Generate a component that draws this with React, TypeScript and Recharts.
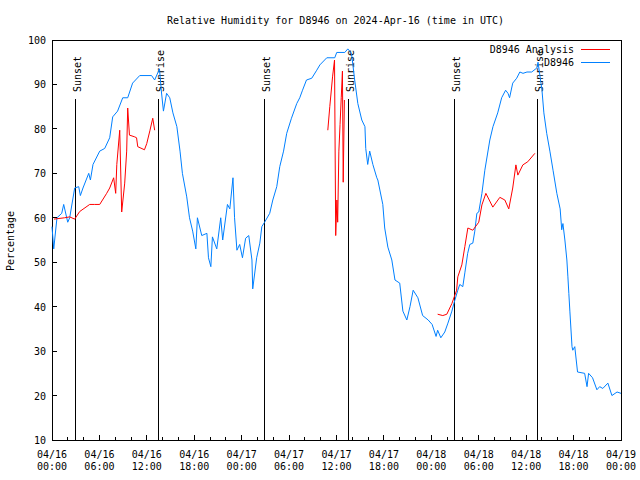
import { LineChart, Line, XAxis, YAxis, ReferenceLine, ReferenceArea, Legend } from "recharts";

const TITLE = "Relative Humidity for D8946 on 2024-Apr-16 (time in UTC)";
const FONT = "'DejaVu Sans Mono', 'Liberation Mono', monospace";

// hours since 04/16 00:00 UTC
const stationHours = [
  0, 0.22, 0.63, 1.23, 1.48, 1.99, 2.24, 2.87, 3.38, 3.59, 3.92, 4.65, 4.86, 5.19, 6.04, 6.67, 7.3, 7.68, 8.3, 8.95,
  9.58, 10.2, 11.1, 12.6, 12.99, 13.6, 13.85, 14.1, 14.5, 14.9, 15.3, 15.8, 16.2, 16.5, 17.05, 17.4, 17.8, 18.2, 18.4, 18.95,
  19.6, 19.8, 20.1, 20.3, 20.85, 21.35, 21.6, 22.2, 22.5, 22.9, 23.1, 23.4, 23.75, 24.1, 24.5, 24.9, 25.3, 25.4, 25.9, 26.3,
  26.55, 26.9, 27.55, 27.94, 28.44, 28.82, 29.3, 29.7, 30.3, 30.97, 31.35, 31.7, 32.2, 32.87, 33.5, 33.9, 34.77, 35.78, 36.03, 37.05,
  37.43, 37.9, 38.3, 38.7, 39.2, 39.6, 39.7, 39.95, 40.2, 40.6, 41.1, 41.23, 41.86, 42.1, 42.5, 43, 43.4, 44, 44.4, 44.9,
  45.3, 45.7, 46.3, 46.9, 47.6, 48.1, 48.6, 48.8, 49.2, 49.7, 50.1, 50.6, 50.85, 51.35, 51.6, 51.98, 52.24, 52.6, 52.87, 53.25,
  53.5, 53.76, 54.0, 54.4, 54.77, 55.4, 55.8, 56.4, 56.9, 57.4, 57.7, 57.9, 58.3, 58.8, 59.2, 59.6, 60.1, 60.7, 61.35, 61.5,
  62, 62.24, 62.6, 63, 63.4, 63.88, 64.3, 64.5, 64.65, 64.9, 65.15, 65.28, 65.4, 65.53, 65.8, 65.9, 66.15, 66.5, 67.4, 67.7,
  67.9, 68.4, 68.95, 69.3, 69.7, 70.34, 70.85, 71.5, 72,
];
const stationRH = [
  58, 53, 60, 61, 63, 59, 60, 66.7, 67, 65, 66.7, 70, 68.5, 72, 75, 75.6, 78, 82.7, 84, 87,
  87, 90.3, 92, 92, 91, 93.5, 88.3, 84, 88, 87, 83.6, 80.5, 75, 70, 64.7, 60, 57, 53, 60, 56,
  56.5, 51, 49, 55.7, 53, 60, 55, 63, 62, 69, 60, 52.7, 54, 51, 55.4, 56, 50.5, 44, 51, 54.3,
  58, 59, 61, 64, 67, 71.5, 75, 79, 82.4, 85.7, 87, 88.7, 91, 91.4, 93.2, 94.4, 96, 96, 97.2, 97.2,
  98, 97, 91, 85.7, 82, 80.5, 75.6, 72, 75, 72, 69, 68.5, 63, 57.7, 53.4, 50.5, 46, 45.3, 39, 37,
  40, 43.7, 42, 38, 37, 36, 33.3, 34.7, 33, 34.3, 36.3, 39, 40.7, 43.7, 45, 44.5, 47.6, 52, 54, 54.3,
  57, 61, 61.3, 65.5, 70.7, 77.5, 80.5, 83.6, 87, 88.7, 88, 87, 90.3, 91.4, 92.8, 92.5, 92.8, 92.8, 93.7, 95,
  88.7, 83.6, 79, 75, 70.7, 65.5, 62, 57.3, 58.7, 55, 50.5, 46.7, 43, 39, 31, 30.2, 31, 25.3, 25, 22,
  25, 24, 21.3, 22, 21.6, 22.8, 20, 20.8, 20.5,
];

// analysis has gaps (null breaks the line)
const analysisHours = [
  0.25, 1.6, 2.24, 2.87, 3.5, 4.77, 5.4, 6.04, 6.92, 7.3, 7.8, 8.06, 8.2, 8.57, 8.82, 9.2, 9.45, 9.58, 9.8, 10.47,
  10.7, 10.85, 11.7, 11.99, 12.4, 12.75, 12.99, 13.5,
  34.9, 35.15, 35.5, 35.75, 35.9, 36.05, 36.15, 36.3, 36.45, 36.6, 36.75, 36.85, 37.0, 37.5,
  48.8, 49.45, 49.96, 50.6, 51.2, 51.35, 51.86, 52.24, 52.62, 53.25, 54.0, 54.4, 54.9, 55.78, 56.67, 57.3, 57.8, 58.3, 58.7, 58.95,
  59.58, 60.2, 61.1,
];
const analysisRH = [
  59.7, 60, 60.2, 59.7, 61.4, 63, 63, 63, 65.5, 66.7, 69, 65.5, 72, 79.7, 61.3, 67.8, 75, 84.7, 78.6, 78.2,
  78, 76, 75.3, 76.7, 79.7, 82.4, 79.7, null,
  79.7, 85, 91.7, 95.5, 56, 64, 59, 75, 81, 87, 93, 68, 86.5, null,
  38.3, 38, 38.3, 40.7, 43.7, 46.7, 49.4, 53.5, 57.7, 57.2, 59, 62.9, 65.5, 62.4, 64.6, 64, 62, 66.7, 71.9, 69.6,
  71.9, 72.6, 74.5,
];

const sunHours = [2.96, 13.42, 26.84, 37.47, 50.89, 61.4];
const sunLabels = ["Sunset", "Sunrise", "Sunset", "Sunrise", "Sunset", "Sunrise"];

const xTicks = [0, 2, 4, 6, 8, 10, 12, 14, 16, 18, 20, 22, 24, 26, 28, 30, 32, 34, 36, 38, 40, 42, 44, 46, 48, 50, 52, 54, 56, 58, 60, 62, 64, 66, 68, 70, 72];
const yTicks = [10, 20, 30, 40, 50, 60, 70, 80, 90, 100];

const stationData = stationHours.map((h, i) => ({ h, rh: stationRH[i] }));
const analysisData = analysisHours.map((h, i) => ({ h, rh: analysisRH[i] }));

const textStyle = { fontFamily: FONT, fontSize: 10, fill: "#000" };

function XTick({ x, y, payload, top }: any) {
  const h = payload.value as number;
  const major = h % 6 === 0;
  const len = major ? 5 : 3;
  if (top) {
    return <line x1={x} x2={x} y1={y} y2={y + len} stroke="#000" shapeRendering="crispEdges" />;
  }
  const day = 16 + Math.floor(h / 24);
  const hh = String(h % 24).padStart(2, "0");
  return (
    <g>
      <line x1={x} x2={x} y1={y} y2={y - len} stroke="#000" shapeRendering="crispEdges" />
      {major && (
        <text x={x} y={y + 18} textAnchor="middle" style={textStyle}>{`04/${day}`}</text>
      )}
      {major && (
        <text x={x} y={y + 30} textAnchor="middle" style={textStyle}>{`${hh}:00`}</text>
      )}
    </g>
  );
}

function YTick({ x, y, payload, right }: any) {
  if (right) {
    return <line x1={x} x2={x - 5} y1={y} y2={y} stroke="#000" shapeRendering="crispEdges" />;
  }
  return (
    <g>
      <line x1={x} x2={x + 5} y1={y} y2={y} stroke="#000" shapeRendering="crispEdges" />
      <text x={x - 6} y={y + 4} textAnchor="end" style={textStyle}>{payload.value}</text>
    </g>
  );
}

// label reads upward, starting just above the top of each sun line
function SunLabel({ viewBox, text }: any) {
  const lx = viewBox.x + 6;
  const ly = 92;
  return (
    <text x={lx} y={ly} textAnchor="start" transform={`rotate(-90, ${lx}, ${ly})`} style={textStyle}>
      {text}
    </text>
  );
}

function KeyBox() {
  const rows = [
    { name: "D8946 Analysis", color: "#ff0000" },
    { name: "D8946", color: "#0080ff" },
  ];
  return (
    <div style={{ fontFamily: FONT, fontSize: 10 }}>
      {rows.map((r) => (
        <div key={r.name} style={{ display: "flex", justifyContent: "flex-end", alignItems: "center", height: 13 }}>
          <span style={{ whiteSpace: "pre" }}>{r.name}</span>
          <span style={{ display: "inline-block", width: 29, height: 1, marginLeft: 7, background: r.color }} />
        </div>
      ))}
    </div>
  );
}

export default function App() {
  return (
    <div style={{ position: "absolute", left: 0, top: 0, width: 640, height: 480, background: "#fff" }}>
      <LineChart width={640} height={480} margin={{ top: 39, right: 18, bottom: 39, left: 51 }}>
        <XAxis
          xAxisId="bottom"
          dataKey="h"
          type="number"
          domain={[0, 72]}
          ticks={xTicks}
          interval={0}
          height={1}
          tickSize={0}
          tickMargin={0}
          axisLine={false}
          tickLine={false}
          tick={(p: any) => <XTick {...p} />}
        />
        <XAxis
          xAxisId="top"
          orientation="top"
          dataKey="h"
          type="number"
          domain={[0, 72]}
          ticks={xTicks}
          interval={0}
          height={1}
          tickSize={0}
          tickMargin={0}
          axisLine={false}
          tickLine={false}
          tick={(p: any) => <XTick {...p} top />}
        />
        <YAxis
          yAxisId="left"
          type="number"
          domain={[10, 100]}
          ticks={yTicks}
          interval={0}
          width={1}
          tickSize={0}
          tickMargin={0}
          axisLine={false}
          tickLine={false}
          tick={(p: any) => <YTick {...p} />}
        />
        <YAxis
          yAxisId="right"
          orientation="right"
          type="number"
          domain={[10, 100]}
          ticks={yTicks}
          interval={0}
          width={1}
          tickSize={0}
          tickMargin={0}
          axisLine={false}
          tickLine={false}
          tick={(p: any) => <YTick {...p} right />}
        />
        <ReferenceArea
          xAxisId="bottom"
          yAxisId="left"
          x1={0}
          x2={72}
          y1={10}
          y2={100}
          fill="none"
          stroke="#000"
          strokeWidth={1}
          shapeRendering="crispEdges"
          ifOverflow="visible"
        />
        {sunHours.map((h, i) => (
          <ReferenceLine
            key={i}
            xAxisId="bottom"
            yAxisId="left"
            segment={[{ x: h, y: 10 }, { x: h, y: 86.7 }]}
            stroke="#000"
            strokeWidth={1}
            shapeRendering="crispEdges"
            label={<SunLabel text={sunLabels[i]} />}
          />
        ))}
        <Line
          xAxisId="bottom"
          yAxisId="left"
          data={stationData}
          dataKey="rh"
          name="D8946"
          type="linear"
          stroke="#0080ff"
          strokeWidth={1}
          dot={false}
          activeDot={false}
          isAnimationActive={false}
        />
        <Line
          xAxisId="bottom"
          yAxisId="left"
          data={analysisData}
          dataKey="rh"
          name="D8946 Analysis"
          type="linear"
          stroke="#ff0000"
          strokeWidth={1}
          dot={false}
          activeDot={false}
          connectNulls={false}
          isAnimationActive={false}
        />
        <Legend
          layout="vertical"
          align="center"
          verticalAlign="middle"
          content={() => <KeyBox />}
          wrapperStyle={{ left: 435, top: 43, width: 175, height: 26 }}
        />
      </LineChart>
      <svg width={640} height={480} style={{ position: "absolute", left: 0, top: 0, pointerEvents: "none" }}>
        <text x={335.5} y={24} textAnchor="middle" style={textStyle}>{TITLE}</text>
        <text x={14} y={241} textAnchor="middle" transform="rotate(-90, 14, 241)" style={textStyle}>Percentage</text>
      </svg>
    </div>
  );
}
